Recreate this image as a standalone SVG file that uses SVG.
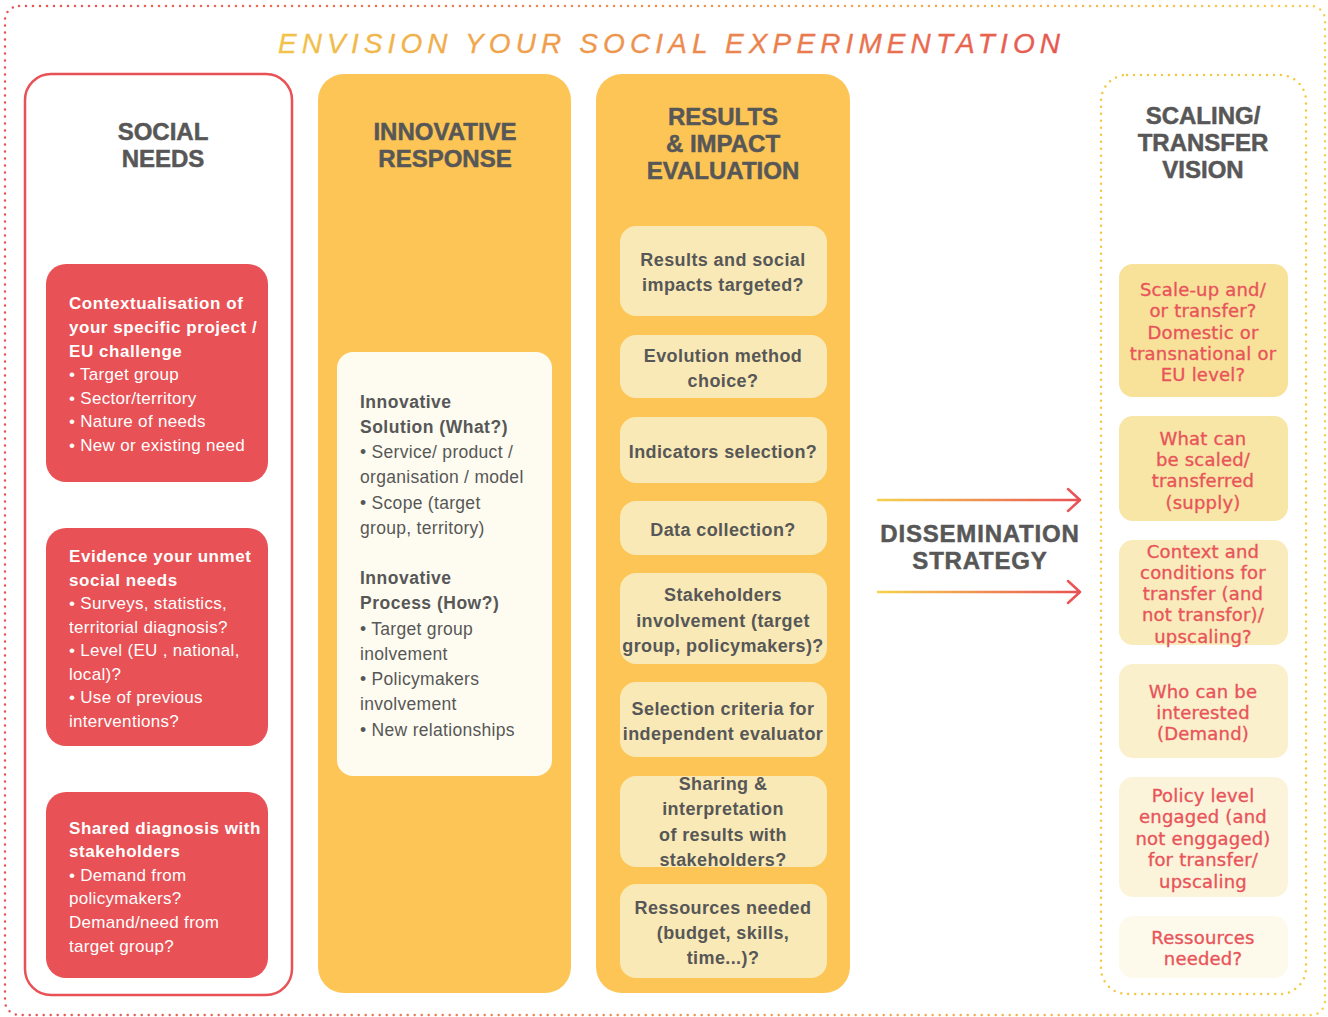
<svg xmlns="http://www.w3.org/2000/svg" width="1328" height="1017" viewBox="0 0 1328 1017">
<defs>
<linearGradient id="gBorder" x1="0" y1="0" x2="1" y2="0">
<stop offset="0" stop-color="#e85155"/><stop offset="1" stop-color="#f7cf4f"/>
</linearGradient>
<linearGradient id="gTitle" x1="278" y1="0" x2="1060" y2="0" gradientUnits="userSpaceOnUse">
<stop offset="0" stop-color="#f2c34b"/><stop offset="1" stop-color="#e6584f"/>
</linearGradient>
<linearGradient id="gArrow" x1="878" y1="0" x2="1082" y2="0" gradientUnits="userSpaceOnUse">
<stop offset="0" stop-color="#f6d24d"/><stop offset="1" stop-color="#e84f55"/>
</linearGradient>
<style>
.hdr{font-family:"Liberation Sans",Arial,sans-serif;font-weight:bold;font-size:24px;fill:#575757;stroke:#575757;stroke-width:0.5px;text-anchor:middle;}
.rb{font-family:"Liberation Sans",Arial,sans-serif;font-weight:bold;font-size:17px;letter-spacing:0.55px;fill:#ffffff;}
.rr{font-family:"Liberation Sans",Arial,sans-serif;font-size:17px;letter-spacing:0.3px;fill:#ffffff;}
.cb{font-family:"Liberation Sans",Arial,sans-serif;font-weight:bold;font-size:17.5px;letter-spacing:0.5px;fill:#575757;}
.cr{font-family:"Liberation Sans",Arial,sans-serif;font-size:17.5px;letter-spacing:0.3px;fill:#575757;}
.eb{font-family:"Liberation Sans",Arial,sans-serif;font-weight:bold;font-size:18px;letter-spacing:0.4px;fill:#575757;text-anchor:middle;}
.st{font-family:"DejaVu Sans",sans-serif;font-size:18px;letter-spacing:0.2px;fill:#e8545a;stroke:#e8545a;stroke-width:0.35px;text-anchor:middle;}
.col{fill:#fdc555;}
.ebox{fill:#f9e9b6;}
.arr{fill:none;stroke:url(#gArrow);stroke-width:2.5;stroke-linecap:round;stroke-linejoin:round;}
</style>
</defs>
<rect width="1328" height="1017" fill="#ffffff"/>
<rect x="5" y="6" width="1320" height="1009" rx="14" fill="none" stroke="url(#gBorder)" stroke-width="2.5" stroke-dasharray="0 7" stroke-linecap="round"/>
<text x="278" y="53" font-family="'Liberation Sans',Arial,sans-serif" font-style="italic" font-size="28" fill="url(#gTitle)" stroke="url(#gTitle)" stroke-width="0.3" textLength="782" lengthAdjust="spacing">ENVISION YOUR SOCIAL EXPERIMENTATION</text>

<g id="social-needs">
<rect x="25" y="74" width="267" height="921" rx="26" fill="#ffffff" stroke="#e85155" stroke-width="2.5"/>
<text class="hdr"><tspan x="163" y="140">SOCIAL</tspan><tspan x="163" y="167">NEEDS</tspan></text>
</g>
<g id="sn-context">
<rect x="46" y="264" width="222" height="218" rx="20" fill="#e85155"/>
<text class="rb"><tspan x="69" y="309">Contextualisation of</tspan><tspan x="69" y="333">your specific project /</tspan><tspan x="69" y="357">EU challenge</tspan></text>
<text class="rr"><tspan x="69" y="380">• Target group</tspan><tspan x="69" y="404">• Sector/territory</tspan><tspan x="69" y="427">• Nature of needs</tspan><tspan x="69" y="451">• New or existing need</tspan></text>
</g>
<g id="sn-evidence">
<rect x="46" y="528" width="222" height="218" rx="20" fill="#e85155"/>
<text class="rb"><tspan x="69" y="562">Evidence your unmet</tspan><tspan x="69" y="586">social needs</tspan></text>
<text class="rr"><tspan x="69" y="609">• Surveys, statistics,</tspan><tspan x="69" y="633">territorial diagnosis?</tspan><tspan x="69" y="656">• Level (EU , national,</tspan><tspan x="69" y="680">local)?</tspan><tspan x="69" y="703">• Use of previous</tspan><tspan x="69" y="727">interventions?</tspan></text>
</g>
<g id="sn-shared">
<rect x="46" y="792" width="222" height="186" rx="20" fill="#e85155"/>
<text class="rb"><tspan x="69" y="834">Shared diagnosis with</tspan><tspan x="69" y="857">stakeholders</tspan></text>
<text class="rr"><tspan x="69" y="881">• Demand from</tspan><tspan x="69" y="904">policymakers?</tspan><tspan x="69" y="928">Demand/need from</tspan><tspan x="69" y="952">target group?</tspan></text>
</g>

<g id="innovative-response">
<rect class="col" x="318" y="74" width="253" height="919" rx="26"/>
<text class="hdr"><tspan x="445" y="140">INNOVATIVE</tspan><tspan x="445" y="167">RESPONSE</tspan></text>
</g>
<g id="ir-detail">
<rect x="337" y="352" width="215" height="424" rx="16" fill="#fefcf0"/>
<text class="cb"><tspan x="360" y="408">Innovative</tspan><tspan x="360" y="433">Solution (What?)</tspan></text>
<text class="cr"><tspan x="360" y="458">• Service/ product /</tspan><tspan x="360" y="483">organisation / model</tspan><tspan x="360" y="509">• Scope (target</tspan><tspan x="360" y="534">group, territory)</tspan></text>
<text class="cb"><tspan x="360" y="584">Innovative</tspan><tspan x="360" y="609">Process (How?)</tspan></text>
<text class="cr"><tspan x="360" y="635">• Target group</tspan><tspan x="360" y="660">inolvement</tspan><tspan x="360" y="685">• Policymakers</tspan><tspan x="360" y="710">involvement</tspan><tspan x="360" y="736">• New relationships</tspan></text>
</g>

<g id="results-impact">
<rect class="col" x="596" y="74" width="254" height="919" rx="26"/>
<text class="hdr"><tspan x="723" y="125">RESULTS</tspan><tspan x="723" y="152">&amp; IMPACT</tspan><tspan x="723" y="179">EVALUATION</tspan></text>
</g>
<g id="ri-results">
<rect class="ebox" x="620" y="226" width="207" height="90" rx="16"/>
<text class="eb"><tspan x="723" y="266">Results and social</tspan><tspan x="723" y="291">impacts targeted?</tspan></text>
</g>
<g id="ri-method">
<rect class="ebox" x="620" y="335" width="207" height="63" rx="16"/>
<text class="eb"><tspan x="723" y="362">Evolution method</tspan><tspan x="723" y="387">choice?</tspan></text>
</g>
<g id="ri-indicators">
<rect class="ebox" x="620" y="417" width="207" height="66" rx="16"/>
<text class="eb" x="723" y="458">Indicators selection?</text>
</g>
<g id="ri-data">
<rect class="ebox" x="620" y="501" width="207" height="54" rx="16"/>
<text class="eb" x="723" y="536">Data collection?</text>
</g>
<g id="ri-stakeholders">
<rect class="ebox" x="620" y="573" width="207" height="91" rx="16"/>
<text class="eb"><tspan x="723" y="601">Stakeholders</tspan><tspan x="723" y="627">involvement (target</tspan><tspan x="723" y="652">group, policymakers)?</tspan></text>
</g>
<g id="ri-evaluator">
<rect class="ebox" x="620" y="682" width="207" height="75" rx="16"/>
<text class="eb"><tspan x="723" y="715">Selection criteria for</tspan><tspan x="723" y="740">independent evaluator</tspan></text>
</g>
<g id="ri-sharing">
<rect class="ebox" x="620" y="776" width="207" height="91" rx="16"/>
<text class="eb"><tspan x="723" y="790">Sharing &amp;</tspan><tspan x="723" y="815">interpretation</tspan><tspan x="723" y="841">of results with</tspan><tspan x="723" y="866">stakeholders?</tspan></text>
</g>
<g id="ri-resources">
<rect class="ebox" x="620" y="884" width="207" height="94" rx="16"/>
<text class="eb"><tspan x="723" y="914">Ressources needed</tspan><tspan x="723" y="939">(budget, skills,</tspan><tspan x="723" y="964">time...)?</tspan></text>
</g>

<g id="dissemination">
<text class="hdr" font-size="24.5" letter-spacing="0.8"><tspan x="980" y="542">DISSEMINATION</tspan><tspan x="980" y="569">STRATEGY</tspan></text>
</g>
<g id="connectors">
<path class="arr" d="M878 500 H1080 M1068 489 L1080 500 L1068 511"/>
<path class="arr" d="M878 592 H1080 M1068 581 L1080 592 L1068 603"/>
</g>

<g id="scaling-transfer">
<rect x="1101" y="75" width="205" height="919" rx="26" fill="none" stroke="#f5c842" stroke-width="2.5" stroke-dasharray="0 7" stroke-linecap="round"/>
<text class="hdr"><tspan x="1203" y="124">SCALING/</tspan><tspan x="1203" y="151">TRANSFER</tspan><tspan x="1203" y="178">VISION</tspan></text>
</g>
<g id="st-scale">
<rect x="1119" y="264" width="169" height="133" rx="14" fill="#f8e29a"/>
<text class="st"><tspan x="1203" y="296">Scale-up and/</tspan><tspan x="1203" y="317">or transfer?</tspan><tspan x="1203" y="339">Domestic or</tspan><tspan x="1203" y="360">transnational or</tspan><tspan x="1203" y="381">EU level?</tspan></text>
</g>
<g id="st-what">
<rect x="1119" y="416" width="169" height="105" rx="14" fill="#f8e6a6"/>
<text class="st"><tspan x="1203" y="445">What can</tspan><tspan x="1203" y="466">be scaled/</tspan><tspan x="1203" y="487">transferred</tspan><tspan x="1203" y="509">(supply)</tspan></text>
</g>
<g id="st-context">
<rect x="1119" y="540" width="169" height="105" rx="14" fill="#f9ebbb"/>
<text class="st"><tspan x="1203" y="558">Context and</tspan><tspan x="1203" y="579">conditions for</tspan><tspan x="1203" y="600">transfer (and</tspan><tspan x="1203" y="621">not transfor)/</tspan><tspan x="1203" y="643">upscaling?</tspan></text>
</g>
<g id="st-who">
<rect x="1119" y="664" width="169" height="94" rx="14" fill="#fbf0cc"/>
<text class="st"><tspan x="1203" y="698">Who can be</tspan><tspan x="1203" y="719">interested</tspan><tspan x="1203" y="740">(Demand)</tspan></text>
</g>
<g id="st-policy">
<rect x="1119" y="777" width="169" height="120" rx="14" fill="#fcf4da"/>
<text class="st"><tspan x="1203" y="802">Policy level</tspan><tspan x="1203" y="823">engaged (and</tspan><tspan x="1203" y="845">not enggaged)</tspan><tspan x="1203" y="866">for transfer/</tspan><tspan x="1203" y="888">upscaling</tspan></text>
</g>
<g id="st-resources">
<rect x="1119" y="916" width="169" height="62" rx="14" fill="#fefaeb"/>
<text class="st"><tspan x="1203" y="944">Ressources</tspan><tspan x="1203" y="965">needed?</tspan></text>
</g>
</svg>
